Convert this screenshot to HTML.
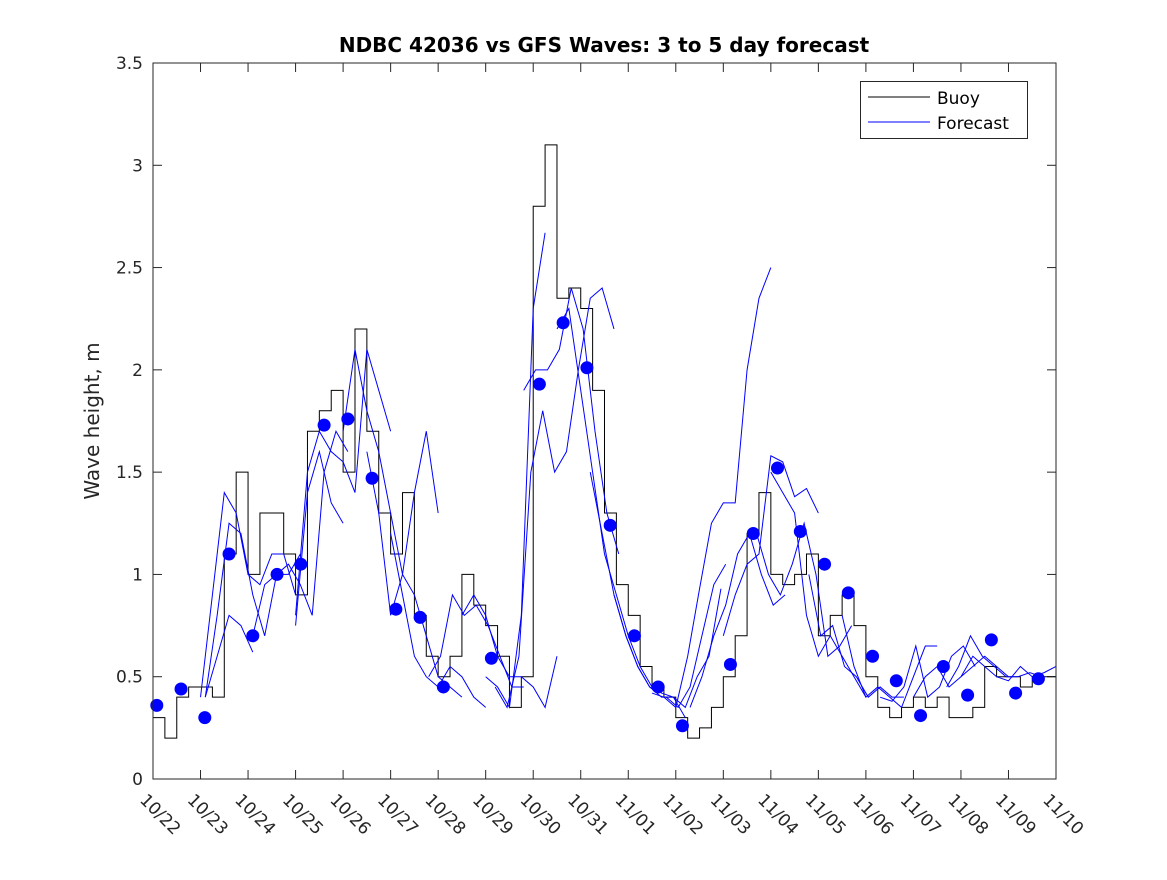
<!DOCTYPE html>
<html><head><meta charset="utf-8"><style>
body{margin:0;background:#fff;}
svg text{font-family:"DejaVu Sans","Liberation Sans",sans-serif;}
</style></head><body>
<svg id="chart" width="1167" height="875" xmlns="http://www.w3.org/2000/svg">
<rect width="1167" height="875" fill="#fff"/>
<text x="604" y="52" text-anchor="middle" font-size="20" font-weight="bold" fill="#000">NDBC 42036 vs GFS Waves: 3 to 5 day forecast</text>
<text transform="translate(99,421) rotate(-90)" text-anchor="middle" font-size="20" fill="#262626">Wave height, m</text>
<g id="grid"></g>
<g id="marks"></g>
<rect x="153" y="63" width="903" height="716" fill="none" stroke="#262626" stroke-width="1"/>
<g>
<rect x="860.5" y="81.5" width="167" height="57" fill="#fff" stroke="#262626"/>
<line x1="868" y1="97" x2="930" y2="97" stroke="#000"/>
<text x="937" y="104" font-size="17">Buoy</text>
<line x1="868" y1="122" x2="930" y2="122" stroke="#0000ff"/>
<text x="937" y="129" font-size="17">Forecast</text>
</g>
</svg>
<script>
const xTickLabels=["10/22","10/23","10/24","10/25","10/26","10/27","10/28","10/29","10/30","10/31","11/01","11/02","11/03","11/04","11/05","11/06","11/07","11/08","11/09","11/10"];
const yTicks=[0,0.5,1,1.5,2,2.5,3,3.5];
const yTickLabels=["0","0.5","1","1.5","2","2.5","3","3.5"];
const buoyStep=0.25;
const buoy=[0.3,0.2,0.4,0.45,0.45,0.4,1.1,1.5,1.0,1.3,1.3,1.1,0.9,1.7,1.8,1.9,1.5,2.2,1.7,1.3,1.1,1.4,0.8,0.6,0.5,0.6,1.0,0.85,0.75,0.6,0.35,0.5,2.8,3.1,2.35,2.4,2.3,1.9,1.3,0.95,0.8,0.55,0.45,0.4,0.3,0.2,0.25,0.35,0.5,0.7,1.2,1.4,1.0,0.95,1.0,1.1,0.7,0.8,0.9,0.75,0.5,0.35,0.3,0.35,0.4,0.35,0.4,0.3,0.3,0.35,0.55,0.5,0.5,0.45,0.5,0.5,0.55];
const fcStarts=[1.0,1.1,1.1,2.1,3.0,3.0,4.0,4.5,5.0,5.8,6.5,7.0,7.2,7.8,8.5,9.2,9.7,10.5,10.8,11.3,12.0,12.7,13.0,13.8,14.5,15.3,16.0,16.7,17.0];
const fcValues=[
[0.4,0.9,1.4,1.3,1.0,0.95,1.1,1.1,0.9],
[0.4,0.8,1.25,1.2,0.9,0.7,1.0,1.0,1.1],
[0.4,0.6,0.8,0.75,0.62],
[0.7,0.95,1.0,1.05,0.95,0.8,1.5,1.7,1.6],
[0.8,1.5,1.7,1.6,1.55,1.4,2.1,1.9,1.7],
[0.75,1.4,1.6,1.35,1.25],
[1.7,2.1,1.8,1.6,1.3,1.0,1.4,1.7,1.3],
[1.6,1.3,0.8,1.0,0.9,0.7,0.5,0.45,0.4],
[1.2,0.9,0.6,0.5,0.45,0.55,0.5,0.4,0.35],
[0.5,0.6,0.9,0.8,0.85,0.75,0.6,0.45,0.45],
[0.8,0.9,0.8,0.6,0.5,0.5,0.45,0.35,0.6],
[0.5,0.45,0.35,0.8,2.3,2.67],
[0.45,0.35,0.6,1.5,1.8,1.5,1.6,2.0,2.35,2.4,2.2],
[1.9,2.0,2.0,2.1,2.4,2.2,1.7,1.3,1.1],
[2.2,2.3,1.9,1.5,1.1,0.9,0.7,0.55,0.45],
[1.5,1.2,0.9,0.7,0.55,0.45,0.42,0.4,0.3],
[0.9,0.7,0.55,0.45,0.4,0.4,0.35,0.5,0.6,0.93],
[0.42,0.4,0.35,0.6,0.93,1.25,1.35,1.35,2.0,2.35,2.5],
[0.4,0.35,0.45,0.7,0.95,1.05],
[0.35,0.5,0.7,0.85,1.1,1.2,1.0,0.85,0.9],
[0.7,0.9,1.05,1.1,1.58,1.55,1.38,1.42,1.3],
[1.2,1.0,0.9,1.05,1.25,1.0,0.6,0.65,0.75],
[1.5,1.4,1.3,0.8,0.6,0.7,0.6,0.5,0.4],
[1.0,0.7,0.75,0.55,0.5,0.4,0.45,0.4,0.4],
[0.8,0.55,0.4,0.45,0.4,0.35,0.5,0.65,0.65],
[0.4,0.38,0.45,0.65,0.4,0.45,0.6,0.65,0.55],
[0.4,0.5,0.55,0.45,0.5,0.55,0.6,0.55,0.5],
[0.45,0.55,0.7,0.6,0.55,0.5,0.5,0.52,0.5],
[0.5,0.6,0.55,0.5,0.48,0.55,0.5,0.52,0.55]];
const fcStep=0.25;
const dotDays=[0.08,0.59,1.09,1.6,2.1,2.61,3.11,3.6,4.1,4.61,5.11,5.62,6.11,7.12,8.13,8.63,9.13,9.62,10.13,10.63,11.14,12.15,12.63,13.14,13.62,14.13,14.63,15.14,15.64,16.15,16.63,17.14,17.64,18.15,18.63];
const dotValues=[0.36,0.44,0.30,1.10,0.70,1.00,1.05,1.73,1.76,1.47,0.83,0.79,0.45,0.59,1.93,2.23,2.01,1.24,0.70,0.45,0.26,0.56,1.20,1.52,1.21,1.05,0.91,0.60,0.48,0.31,0.55,0.41,0.68,0.42,0.49];

const X0=153,X1=1056,Y0=779,Y1=63,NDAYS=19,YMAX=3.5;
const sx=d=>X0+d*(X1-X0)/NDAYS;
const sy=v=>Y0-v*(Y0-Y1)/YMAX;
const NS="http://www.w3.org/2000/svg";
const grid=document.getElementById('grid'),marks=document.getElementById('marks');
function mk(tag,attrs,parent){const e=document.createElementNS(NS,tag);for(const k in attrs)e.setAttribute(k,attrs[k]);parent.appendChild(e);return e;}
xTickLabels.forEach((l,i)=>{
  const x=sx(i);
  const t1=mk('line',{x1:x,y1:Y0,x2:x,y2:Y0-9,stroke:'#262626'},grid);
  
  
  mk('line',{x1:x,y1:Y1,x2:x,y2:Y1+9,stroke:'#262626'},grid);
  const t=mk('text',{x:x-14,y:Y0+22,'font-size':17,fill:'#262626',transform:`rotate(45 ${x-14} ${Y0+22})`},grid);
  t.textContent=l;
  
  
});
yTicks.forEach((v,i)=>{
  const y=sy(v);
  mk('line',{x1:X0,y1:y,x2:X0+9,y2:y,stroke:'#262626'},grid);
  mk('line',{x1:X1,y1:y,x2:X1-9,y2:y,stroke:'#262626'},grid);
  const t=mk('text',{x:X0-10,y:y+6,'font-size':17,'text-anchor':'end',fill:'#262626'},grid);
  t.textContent=yTickLabels[i];
  
  
});
let d='';
buoy.forEach((v,i)=>{const x=sx(i*buoyStep),y=sy(v);
  if(i===0)d+=`M${x},${y}`;else d+=`H${x}V${y}`;});
const bl=mk('path',{d:d,fill:'none',stroke:'#000','stroke-width':1},marks);


fcValues.forEach((arr,j)=>{
  const pts=arr.map((v,i)=>`${sx(fcStarts[j]+i*fcStep)},${sy(v)}`).join(' ');
  const p=mk('polyline',{points:pts,fill:'none',stroke:'#0000ff','stroke-width':1},marks);
  
  
});
dotDays.forEach((dd,i)=>{
  const c=mk('circle',{cx:sx(dd),cy:sy(dotValues[i]),r:6.5,fill:'#0000ff'},marks);
  
  
});
</script>
</body></html>
